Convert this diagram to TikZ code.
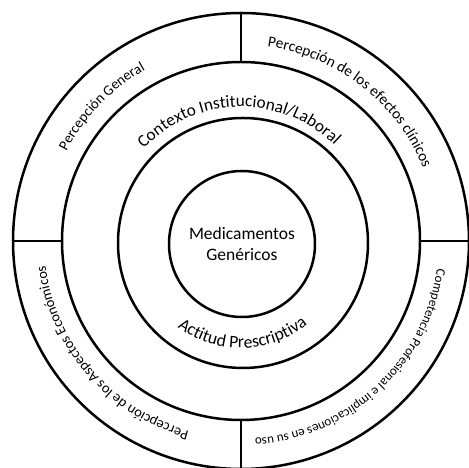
\documentclass[tikz,border=0pt]{standalone}
\usepackage{fontspec}
\setmainfont{Carlito}
\usetikzlibrary{decorations.text}
\begin{document}
\begin{tikzpicture}[x=1pt,y=1pt,
  ring/.style={circle, draw, line width=2.5pt, outer sep=0pt, inner sep=0pt},
  divider/.style={line width=2.5pt},
  arctext/.style={decorate, decoration={text along path, text align=center, text={#1}}}]
\useasboundingbox (0,0) rectangle (469,468);
\coordinate (C) at (241,227);
\node[ring, minimum size=456] (outer) at (C) {};
\node[ring, minimum size=358] (mid) at (C) {};
\node[ring, minimum size=250] (inner) at (243,225) {};
\node[ring, minimum size=146, align=center, font=\fontsize{17.5}{21}\selectfont] (core) at (242,224) {Medicamentos\\Genéricos};
% dividers
\draw[divider] (outer.north) -- (mid.north);
\draw[divider] (outer.south) -- (mid.south);
\draw[divider] (outer.west) -- (mid.west);
\draw[divider] (outer.east) -- (mid.east);
% ring labels
\path[shift={(C)}, arctext={|\fontsize{17.2}{20}\selectfont|Contexto Institucional/Laboral}]
  (151:134) arc[start angle=151, end angle=31, radius=134];
\path[shift={(C)}, arctext={|\fontsize{17.6}{20}\selectfont|Actitud Prescriptiva}]
  (216:107) arc[start angle=216, end angle=326, radius=107];
% outer labels
\path[shift={(C)}, arctext={|\fontsize{14.5}{17}\selectfont|Percepción General}]
  (186:196) arc[start angle=186, end angle=86, radius=196];
\path[shift={(C)}, arctext={|\fontsize{15.3}{18}\selectfont|Percepción de los efectos clínicos}]
  (102:196) arc[start angle=102, end angle=2, radius=196];
\path[shift={(C)}, arctext={|\fontsize{14.4}{17}\selectfont|Percepción de los Aspectos Económicos}]
  (271:197) arc[start angle=271, end angle=171, radius=197];
\path[shift={(C)}, arctext={|\fontsize{13}{15}\selectfont|Competencia Profesional e implicaciones en su uso}]
  (358:198) arc[start angle=358, end angle=268, radius=198];
\end{tikzpicture}
\end{document}
